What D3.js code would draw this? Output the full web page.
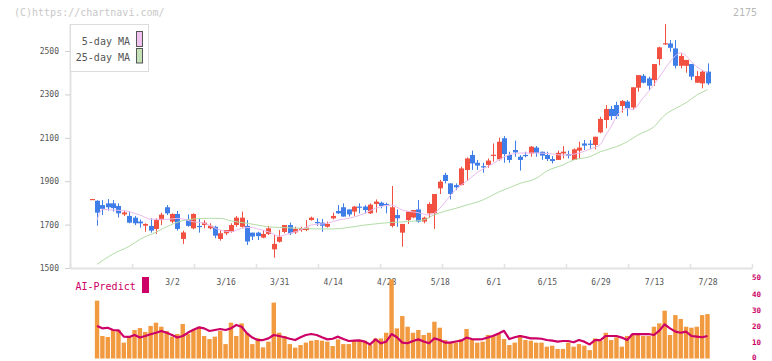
<!DOCTYPE html>
<html>
<head>
<meta charset="utf-8">
<script src="https://cdn.jsdelivr.net/npm/d3@7.9.0/dist/d3.min.js"></script>
<style>
  html, body { margin: 0; padding: 0; background: #fff; }
  svg { display: block; font-family: "DejaVu Sans Mono", "Liberation Mono", monospace; }
</style>
</head>
<body>
<svg id="chart" width="772" height="361"></svg>
<script>
// ---- data ----
const dateLabels = ['3/2', '3/16', '3/31', '4/14', '4/28', '5/18', '6/1', '6/15', '6/29', '7/13', '7/28'];
const dateLabelIdx = [15, 25, 35, 45, 55, 65, 75, 85, 95, 105, 115];
const priceTicks = [1500, 1700, 1900, 2100, 2300, 2500];
const volTicks = [0, 10, 20, 30, 40, 50];

const opens = [1814,1810,1790,1798,1798,1786,1747,1740,1732,1714,
  1695,1694,1680,1721,1780,1714,1749,1634,1724,1683,
  1694,1698,1683,1690,1634,1660,1667,1698,1690,1694,
  1663,1663,1640,1657,1586,1621,1666,1698,1664,1675,
  1675,1721,1712,1709,1690,1729,1763,1780,1770,1760,
  1783,1783,1752,1795,1801,1795,1694,1744,1663,1721,
  1733,1770,1714,1752,1752,1867,1929,1890,1882,1882,
  1952,2021,1985,1969,1975,2018,2001,2098,2021,2044,
  2013,2021,2028,2055,2036,2021,2002,1998,2028,2025,
  1998,2041,2074,2073,2067,2125,2182,2233,2251,2247,
  2267,2240,2331,2386,2374,2366,2463,2533,2535,2512,
  2432,2432,2440,2354,2351,2405];
const highs = [1818,1812,1813,1818,1813,1798,1764,1760,1740,1724,
  1706,1729,1729,1755,1790,1752,1763,1672,1747,1752,
  1729,1721,1706,1694,1675,1672,1706,1740,1760,1721,
  1663,1667,1675,1694,1652,1675,1698,1709,1690,1690,
  1721,1737,1729,1726,1714,1755,1790,1798,1770,1786,
  1798,1790,1798,1816,1806,1801,1878,1770,1703,1760,
  1767,1813,1737,1803,1841,1906,1939,1890,1890,1967,
  2010,2041,1998,1985,2005,2074,2101,2108,2036,2087,
  2020,2036,2062,2062,2036,2036,2016,2041,2062,2041,
  2051,2082,2090,2090,2105,2197,2251,2247,2266,2274,
  2274,2333,2389,2394,2382,2440,2520,2624,2551,2551,
  2489,2459,2440,2408,2412,2443];
const lows = [1814,1695,1744,1764,1760,1733,1740,1706,1698,1686,
  1667,1663,1657,1698,1744,1706,1672,1611,1690,1678,
  1663,1683,1678,1637,1626,1652,1663,1690,1686,1606,
  1629,1629,1637,1652,1548,1617,1660,1652,1657,1667,
  1670,1718,1694,1667,1686,1724,1749,1737,1737,1740,
  1752,1752,1749,1755,1775,1752,1687,1690,1598,1703,
  1729,1709,1706,1730,1680,1841,1890,1816,1859,1882,
  1901,1952,1952,1939,1962,1990,1995,1985,1985,2013,
  1949,2010,2013,2013,1998,1993,1982,1998,2005,2005,
  1998,2005,2044,2047,2047,2121,2144,2182,2187,2216,
  2200,2228,2313,2351,2320,2340,2435,2528,2497,2420,
  2420,2400,2366,2354,2328,2343];
const closes = [1818,1755,1773,1780,1776,1752,1756,1709,1706,1706,
  1703,1672,1721,1746,1752,1749,1680,1664,1694,1749,
  1690,1709,1695,1649,1660,1675,1698,1732,1732,1622,
  1645,1647,1657,1683,1611,1644,1698,1660,1680,1683,
  1686,1732,1709,1695,1703,1740,1752,1737,1747,1783,
  1780,1767,1792,1806,1786,1792,1780,1729,1703,1760,
  1767,1714,1732,1795,1841,1898,1901,1841,1872,1959,
  2005,1982,1972,1965,1995,2022,2082,2025,1998,2033,
  1998,2018,2059,2031,2018,2002,1993,2031,2036,2018,
  2047,2055,2064,2068,2105,2187,2233,2200,2200,2270,
  2236,2333,2389,2354,2340,2440,2517,2536,2515,2432,
  2477,2459,2382,2385,2405,2351];

// [day index, value]
const ma5 = [[1,1721],[2,1770],[4,1767],[6,1764],[9,1744],[11,1725],[14,1724],[16,1729],[19,1713],[21,1706],
  [24,1675],[26,1667],[28,1683],[30,1687],[31,1680],[33,1667],[35,1647],[37,1660],[39,1675],[41,1698],
  [44,1706],[46,1721],[48,1729],[51,1752],[53,1775],[56,1790],[58,1767],[61,1755],[63,1744],[65,1775],
  [67,1835],[68,1862],[70,1900],[72,1940],[75,1982],[77,2012],[80,2030],[83,2030],[86,2026],[88,2020],
  [91,2030],[93,2048],[95,2070],[96,2113],[97,2151],[98,2200],[99,2225],[100,2236],[101,2230],[103,2285],
  [105,2345],[106,2380],[108,2450],[109,2478],[110,2492],[111,2478],[112,2450],[113,2428],[115,2400]];
const ma25 = [[1,1517],[4,1565],[7,1600],[9,1632],[12,1665],[14,1690],[17,1718],[19,1726],[22,1729],[24,1729],
  [26,1717],[29,1706],[31,1698],[33,1690],[35,1687],[39,1683],[42,1680],[45,1680],[48,1687],[51,1698],
  [54,1706],[56,1710],[59,1714],[62,1722],[64,1745],[66,1762],[68,1775],[70,1790],[73,1813],[76,1850],
  [78,1870],[80,1890],[83,1913],[85,1947],[88,1975],[90,1998],[93,2013],[95,2036],[98,2059],[100,2082],
  [102,2113],[105,2151],[107,2205],[109,2235],[111,2262],[113,2297],[115,2322]];

// volume and AI-Predict, day 1 .. 115
const volumes = [35.7,13.9,13.3,17.6,17.6,9.8,13.9,17.6,18.8,16.4,
  20.1,22.1,19.6,17.0,13.5,15.1,21.3,15.1,17.6,19.6,
  13.9,12.0,13.5,17.0,8.9,22.1,13.9,21.7,15.9,8.9,
  12.5,6.9,10.4,34.5,15.9,13.9,8.9,6.7,8.3,9.8,
  11.0,11.4,11.0,10.4,7.7,11.8,8.9,8.9,11.0,11.4,
  11.0,8.3,12.4,12.4,15.9,48.9,18.6,26.2,19.6,15.9,
  17.6,14.5,15.9,22.7,19.0,11.4,9.8,9.8,11.8,18.2,
  11.8,9.8,10.4,14.5,13.9,15.5,12.0,8.3,9.8,14.5,
  11.4,11.0,9.8,9.8,7.3,7.9,5.9,5.9,9.8,7.3,
  8.9,7.9,5.2,12.4,11.0,15.9,11.4,13.1,7.3,13.9,
  15.1,15.1,13.9,13.9,19.6,21.7,29.5,14.5,26.8,24.4,
  19.6,19.0,19.6,26.8,27.4];
const aiPredict = [20.1,18.6,19.0,17.6,17.4,13.5,13.3,14.5,13.0,13.9,
  15.0,15.9,17.0,15.9,14.5,13.0,13.9,16.0,17.8,19.2,
  18.6,17.0,17.6,18.2,17.6,18.6,20.7,19.6,15.5,12.9,
  11.4,11.4,12.4,14.5,13.9,13.1,12.2,11.4,13.1,14.5,
  15.1,14.5,13.1,11.8,12.2,13.5,12.0,10.8,11.0,11.2,
  10.4,8.7,11.8,9.4,10.4,15.1,13.1,9.8,9.4,10.8,
  11.8,10.5,9.4,12.4,11.4,9.8,9.8,10.5,11.0,12.9,
  12.0,11.8,12.0,13.0,14.0,15.5,17.1,12.0,13.1,13.9,
  13.2,12.4,12.4,12.2,11.4,11.0,10.4,10.8,10.8,10.0,
  11.4,10.4,8.7,11.4,11.4,13.9,13.9,13.9,12.9,11.4,
  15.1,15.1,15.1,15.1,14.5,17.2,21.1,18.6,16.6,15.9,
  16.6,13.9,13.5,13.1,13.9];

// ---- build rows ----
const candles = opens.map((o, i) => ({ i, o, h: highs[i], l: lows[i], c: closes[i] }));
const volRows = volumes.map((v, k) => ({ i: k + 1, v }));
const aiRows = aiPredict.map((v, k) => ({ i: k + 1, v }));

const RED = '#f25141', BLUE = '#3f7ee9';
const svg = d3.select('#chart');

// scales
const x = d3.scaleLinear().domain([0, 115]).range([91.7, 707.5]);
const y = d3.scaleLinear().domain([1500, 2626]).range([268, 23.7]);
const yVol = d3.scaleLinear().domain([0, 50]).range([358.5, 277.5]);
const xFrame = d3.scaleLinear().domain([0, 11]).range([70, 752]);

// header texts
svg.append('text').attr('x', 14).attr('y', 16)
  .attr('font-size', 10).attr('fill', '#c8c8c8').text('(C)https://chartnavi.com/');
svg.append('text').attr('x', 757).attr('y', 16).attr('text-anchor', 'end')
  .attr('font-size', 10).attr('fill', '#b8b8b8').text('2175');

// frame axis (bottom line with small up ticks)
const gFrame = svg.append('g').attr('transform', 'translate(0,268)')
  .call(d3.axisBottom(xFrame).tickValues(d3.range(12)).tickSize(-4).tickSizeOuter(0).tickFormat(''));
gFrame.select('.domain').attr('stroke', '#e2e2e2').attr('stroke-width', 2);
gFrame.selectAll('.tick line').attr('stroke', '#e2e2e2').attr('stroke-width', 1.5);

// y price axis
const gY = svg.append('g').attr('transform', 'translate(70,0)')
  .call(d3.axisLeft(y).tickValues(priceTicks).tickSize(5).tickPadding(6).tickSizeOuter(0)
    .tickFormat(d3.format('d')));
gY.select('.domain').attr('stroke', '#e2e2e2').attr('stroke-width', 2);
gY.selectAll('.tick line').attr('stroke', '#cfcfcf');
gY.selectAll('.tick text').attr('font-size', 8).attr('fill', '#555')
  .attr('font-family', '"DejaVu Sans Mono", monospace');

// date labels
const gX = svg.append('g').attr('transform', 'translate(0,268)')
  .call(d3.axisBottom(x).tickValues(dateLabelIdx).tickSize(0).tickPadding(11)
    .tickFormat((d, k) => dateLabels[k]));
gX.select('.domain').remove();
gX.selectAll('.tick text').attr('font-size', 8).attr('fill', '#555')
  .attr('font-family', '"DejaVu Sans Mono", monospace');

// candles
const gC = svg.append('g');
gC.selectAll('line.wick').data(candles).join('line')
  .attr('class', 'wick')
  .attr('x1', d => Math.round(x(d.i)) + 0.5).attr('x2', d => Math.round(x(d.i)) + 0.5)
  .attr('y1', d => y(d.h)).attr('y2', d => y(d.l))
  .attr('stroke', d => d.c >= d.o ? RED : BLUE).attr('stroke-width', 1);
gC.selectAll('rect.body').data(candles).join('rect')
  .attr('class', 'body')
  .attr('x', d => Math.round(x(d.i)) - 2).attr('width', 5)
  .attr('y', d => y(Math.max(d.o, d.c)))
  .attr('height', d => Math.max(1.2, Math.abs(y(d.o) - y(d.c))))
  .attr('fill', d => d.c >= d.o ? RED : BLUE);

// moving averages
const maLine = d3.line().x(d => x(d[0])).y(d => y(d[1])).curve(d3.curveMonotoneX);
svg.append('path').datum(ma25).attr('d', maLine)
  .attr('fill', 'none').attr('stroke', '#b3dca6').attr('stroke-width', 1);
svg.append('path').datum(ma5).attr('d', maLine)
  .attr('fill', 'none').attr('stroke', '#e9b9ee').attr('stroke-width', 1);

// legend
svg.append('rect').attr('x', 70.5).attr('y', 24.5).attr('width', 78).attr('height', 47)
  .attr('fill', '#fff').attr('stroke', '#dcdcdc');
const legendItems = [
  { label: '5-day MA', color: '#f0c2f0', ty: 44.5, ry: 31.5, rh: 15 },
  { label: '25-day MA', color: '#c4e2b6', ty: 60.5, ry: 48.5, rh: 14.5 },
];
legendItems.forEach(it => {
  svg.append('text').attr('x', 130).attr('y', it.ty).attr('text-anchor', 'end')
    .attr('font-size', 10).attr('fill', '#555').text(it.label);
  svg.append('rect').attr('x', 136.5).attr('y', it.ry).attr('width', 6).attr('height', it.rh)
    .attr('fill', it.color).attr('stroke', '#555');
});

// AI-Predict label
svg.append('text').attr('x', 75.5).attr('y', 289.5)
  .attr('font-size', 10).attr('fill', '#cc0066').text('AI-Predict');
svg.append('rect').attr('x', 142).attr('y', 277).attr('width', 7).attr('height', 16)
  .attr('fill', '#cc0066');

// volume bars
svg.append('g').selectAll('rect').data(volRows).join('rect')
  .attr('x', d => x(d.i) - 2.2).attr('width', 4.4)
  .attr('y', d => yVol(d.v)).attr('height', d => yVol(0) - yVol(d.v))
  .attr('fill', '#f29a40');

// AI-Predict line
svg.append('path').datum(aiRows)
  .attr('d', d3.line().x(d => x(d.i)).y(d => yVol(d.v)))
  .attr('fill', 'none').attr('stroke', '#cc0066').attr('stroke-width', 2.2)
  .attr('stroke-linejoin', 'round');

// right volume axis
const gV = svg.append('g').attr('transform', 'translate(745,0)')
  .call(d3.axisRight(yVol).tickValues(volTicks).tickSize(0).tickPadding(7));
gV.select('.domain').remove();
gV.selectAll('.tick text').attr('font-size', 7.5).attr('font-weight', 'bold')
  .attr('fill', '#cc0066').attr('font-family', '"DejaVu Sans Mono", monospace');
gV.selectAll('.tick text').filter(d => d === 0).attr('dy', '0.1em');
</script>
</body>
</html>
